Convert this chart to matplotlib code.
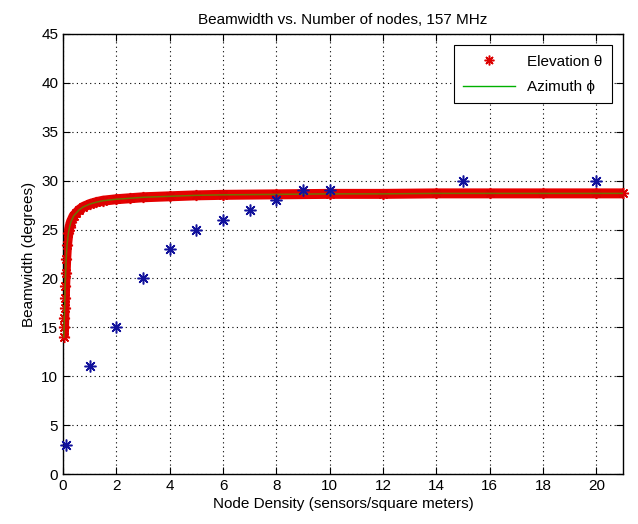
import numpy as np
import matplotlib
matplotlib.use("Agg")
import matplotlib.pyplot as plt
from matplotlib.lines import Line2D

plt.rcParams['font.family'] = ['Liberation Sans', 'DejaVu Sans']
plt.rcParams['font.size'] = 11

# Elevation (red asterisks) / Azimuth (green line)
elev_x = [0.03, 0.04, 0.05, 0.06, 0.07, 0.08, 0.1, 0.12, 0.15, 0.2, 0.25, 0.3, 0.4,
          0.5, 0.6, 0.75, 1.0, 1.25, 1.5, 2.0, 2.5, 3.0, 4.0, 5.0, 6.0, 8.0,
          10.0, 12.0, 14.0, 16.0, 18.0, 20.0, 21.0]
elev_y = [14.0, 15.0, 16.0, 17.0, 18.0, 19.2, 20.6, 22.0, 23.4, 24.6, 25.3, 25.8, 26.4,
          26.7, 27.0, 27.3, 27.6, 27.8, 27.95, 28.1, 28.2, 28.3, 28.4, 28.5, 28.55, 28.6,
          28.65, 28.65, 28.7, 28.7, 28.7, 28.7, 28.7]

# measured points (blue asterisks)
meas_x = [0.1, 1, 2, 3, 4, 5, 6, 7, 8, 9, 10, 15, 20]
meas_y = [3, 11, 15, 20, 23, 25, 26, 27, 28, 29, 29, 30, 30]

xticks = np.arange(0, 21, 2)
yticks = np.arange(0, 46, 5)

fig = plt.figure(figsize=(6.38, 5.24), dpi=100)
ax = fig.add_axes([63/638, 1-474/524, 560/638, 440/524])

ast = (8, 2, 0)  # matlab style asterisk

# dense red asterisks -> thick band
ax.plot(elev_x, elev_y, '-', color='#e60000', lw=7.2, solid_capstyle='butt', zorder=2)
ax.plot(elev_x, elev_y, ls='none', marker=ast, ms=8, mew=1.1, color='#dc0000',
        clip_on=False, zorder=3)
ax.plot(elev_x, elev_y, '-', color='#30b000', lw=1.1, alpha=0.65, zorder=4)

ax.plot(meas_x, meas_y, ls='none', marker=ast, ms=8.5, mew=1.1, color='#12129c',
        clip_on=False, zorder=5)

ax.set_xlim(0, 21)
ax.set_ylim(0, 45)
ax.set_xticks(xticks)
ax.set_yticks(yticks)
ax.grid(True, ls=(0, (1, 3)), color='black', lw=0.8)
ax.tick_params(direction='in', top=True, right=True, length=5, width=0.8, labelsize=11)
for s in ax.spines.values():
    s.set_linewidth(1.0)

ax.set_title('Beamwidth vs. Number of nodes, 157 MHz', fontsize=11, pad=7)
ax.set_xlabel('Node Density (sensors/square meters)', fontsize=11, labelpad=3)
ax.set_ylabel('Beamwidth (degrees)', fontsize=11, labelpad=4)

handles = [Line2D([], [], ls='none', marker=ast, ms=7, mew=1.1, color='#dc0000'),
           Line2D([], [], color='#00b000', lw=1)]
leg = ax.legend(handles, ['Elevation \u03b8', 'Azimuth \u03d5'], loc='upper right',
                fancybox=False, edgecolor='black', framealpha=1, handlelength=3.4,
                borderaxespad=0.75, borderpad=0.6, labelspacing=0.75, fontsize=11)
leg.get_frame().set_linewidth(0.8)

fig.savefig('out.png', dpi=100)
